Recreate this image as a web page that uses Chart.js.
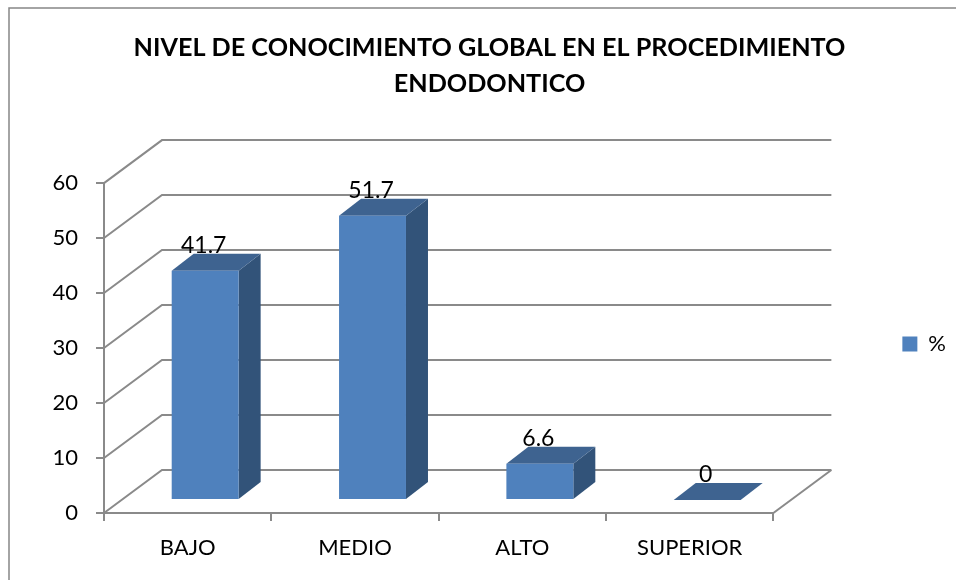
<!DOCTYPE html>
<html>
<head>
<meta charset="utf-8">
<style>
  html, body { margin: 0; padding: 0; background: #fff; overflow: hidden; }
  canvas { display: block; }
</style>
<script src="https://cdn.jsdelivr.net/npm/chart.js@4"></script>
</head>
<body>
<canvas id="nivelChart" width="956" height="580"></canvas>
<script>
const categories = ['BAJO', 'MEDIO', 'ALTO', 'SUPERIOR'];
const values = [41.7, 51.7, 6.6, 0];
const seriesName = '%';
const titleLines = ['NIVEL DE CONOCIMIENTO GLOBAL EN EL PROCEDIMIENTO', 'ENDODONTICO'];

const fontName = 'Lato, "Open Sans", sans-serif';
const axisGrey = '#8a8a8a';

// depth of the fake 3d box, and how far the bars sit inside it
const wallDx = 58, wallDy = 43;
const barOffX = 17.5, barOffY = 13;
const barDx = 22, barDy = 17;

function poly(ctx, pts, color) {
  ctx.fillStyle = color;
  ctx.beginPath();
  pts.forEach((p, i) => i ? ctx.lineTo(p[0], p[1]) : ctx.moveTo(p[0], p[1]));
  ctx.closePath();
  ctx.fill();
}

const fake3d = {
  id: 'fake3d',
  afterLayout(chart) {
    // put the legend entry at the plot's mid height, like the original
    const lg = chart.legend;
    lg.top = 343 - 10 - lg.options.labels.padding;
  },
  beforeDraw(chart) {
    const ctx = chart.ctx;
    ctx.save();
    ctx.fillStyle = '#fff';
    ctx.fillRect(0, 0, chart.width, chart.height);
    // chart frame, right and bottom sides are cut off by the picture
    ctx.strokeStyle = '#868686';
    ctx.lineWidth = 1.5;
    ctx.beginPath();
    ctx.moveTo(9, chart.height);
    ctx.lineTo(9, 8);
    ctx.lineTo(chart.width, 8);
    ctx.stroke();
    ctx.restore();
  },
  beforeDatasetsDraw(chart) {
    const ctx = chart.ctx;
    const { left, right, bottom } = chart.chartArea;
    const x = chart.scales.x, y = chart.scales.y;
    ctx.save();

    // side wall and back wall lines
    ctx.strokeStyle = axisGrey;
    ctx.lineWidth = 2;
    y.ticks.forEach(t => {
      const py = y.getPixelForValue(t.value);
      ctx.beginPath();
      ctx.moveTo(left, py);
      ctx.lineTo(left + wallDx, py - wallDy);
      ctx.lineTo(right + wallDx, py - wallDy);
      ctx.stroke();
    });
    ctx.beginPath();
    ctx.moveTo(right, bottom);
    ctx.lineTo(right + wallDx, bottom - wallDy);
    ctx.stroke();

    // value labels go behind the top faces
    ctx.fillStyle = '#000';
    ctx.font = '23px ' + fontName;
    ctx.textAlign = 'center';
    ctx.textBaseline = 'middle';
    const bars = chart.getDatasetMeta(0).data;
    bars.forEach((bar, i) => {
      ctx.fillText(String(values[i]), x.getPixelForValue(i) + 16, y.getPixelForValue(values[i]) - 38);
    });

    // side and top faces
    bars.forEach(bar => {
      const p = bar.getProps(['x', 'y', 'base', 'width'], true);
      const l = p.x - p.width / 2 + barOffX;
      const r = p.x + p.width / 2 + barOffX;
      const t = p.y - barOffY;
      const b = p.base - barOffY;
      if (b - t > 0) {
        poly(ctx, [[r, t], [r + barDx, t - barDy], [r + barDx, b - barDy], [r, b]], '#325379');
      }
      poly(ctx, [[l, t], [l + barDx, t - barDy], [r + barDx, t - barDy], [r, t]], '#3e6390');
    });
    ctx.restore();
  },
  beforeDatasetDraw(chart) {
    chart.ctx.save();
    chart.ctx.translate(barOffX, -barOffY);
  },
  afterDatasetDraw(chart) {
    chart.ctx.restore();
  }
};

new Chart(document.getElementById('nivelChart').getContext('2d'), {
  type: 'bar',
  data: {
    labels: categories,
    datasets: [{
      label: seriesName,
      data: values,
      backgroundColor: '#4f81bd',
      barPercentage: 0.4,
      categoryPercentage: 1,
      clip: false
    }]
  },
  options: {
    responsive: false,
    animation: false,
    layout: { padding: { left: 23, right: 0, top: 8, bottom: 7 } },
    plugins: {
      title: {
        display: true,
        text: titleLines,
        color: '#000',
        font: { family: fontName, size: 25.2, weight: 'bold', lineHeight: 1.43 },
        padding: { top: 22, bottom: 81 }
      },
      legend: {
        position: 'right',
        align: 'start',
        labels: {
          boxWidth: 15,
          boxHeight: 15,
          padding: 129,
          color: '#000',
          font: { family: fontName, size: 22 }
        }
      },
      tooltip: { enabled: false }
    },
    scales: {
      x: {
        afterFit(scale) { scale.height = 60; },
        grid: { drawOnChartArea: false, tickLength: 8, color: axisGrey, lineWidth: 2 },
        border: { color: axisGrey, width: 2 },
        ticks: { color: '#000', padding: 14, maxRotation: 0, font: { family: fontName, size: 22 } }
      },
      y: {
        min: 0,
        max: 60,
        afterFit(scale) { scale.width = 81; },
        grid: { drawOnChartArea: false, tickLength: 8, color: axisGrey, lineWidth: 2 },
        border: { color: axisGrey, width: 2 },
        ticks: { stepSize: 10, color: '#000', padding: 18, font: { family: fontName, size: 22 } }
      }
    }
  },
  plugins: [fake3d]
});
</script>
</body>
</html>
